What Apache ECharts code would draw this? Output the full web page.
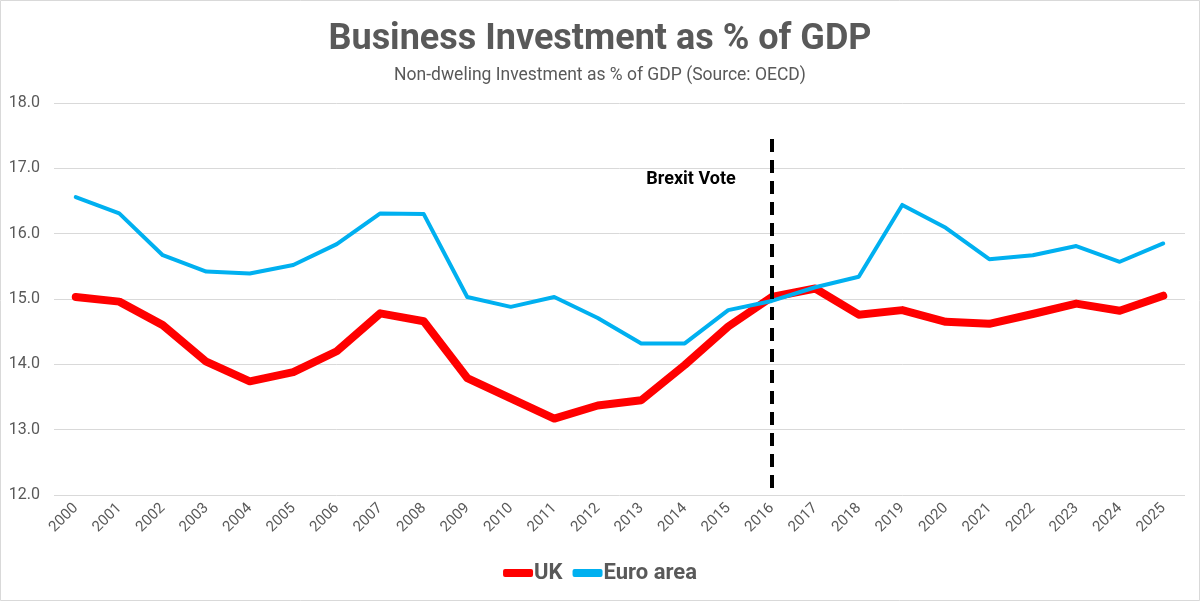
<!DOCTYPE html>
<html>
<head>
<meta charset="utf-8">
<script src="https://cdn.jsdelivr.net/npm/echarts@6/dist/echarts.min.js"></script>
<style>
  html, body { margin: 0; padding: 0; background: #fff; }
  #main { width: 1200px; height: 601px; }
</style>
</head>
<body>
<div id="main"></div>
<script>
// years on the x axis
var years = ['2000', '2001', '2002', '2003', '2004', '2005', '2006', '2007', '2008', '2009',
    '2010', '2011', '2012', '2013', '2014', '2015', '2016', '2017', '2018', '2019',
    '2020', '2021', '2022', '2023', '2024', '2025'];

// non-dwelling investment, % of GDP
var ukValues = [15.03, 14.96, 14.60, 14.04, 13.74, 13.88, 14.20, 14.78, 14.66, 13.79,
    13.48, 13.17, 13.37, 13.45, 13.99, 14.58, 15.03, 15.16, 14.76, 14.83,
    14.65, 14.62, 14.77, 14.93, 14.82, 15.05];
var euroValues = [16.56, 16.31, 15.67, 15.42, 15.39, 15.52, 15.84, 16.31, 16.30, 15.03,
    14.88, 15.03, 14.71, 14.32, 14.32, 14.83, 14.97, 15.18, 15.34, 16.44,
    16.09, 15.61, 15.67, 15.81, 15.57, 15.85];

var yTicks = [12, 13, 14, 15, 16, 17, 18];

// brexit marker
var brexitYear = '2016';
var brexitTop = 17.45;
var brexitLabel = 'Brexit Vote';

var grey = '#595959';
var narrow = "'Liberation Sans Narrow', 'Roboto', sans-serif";

var myChart = echarts.init(document.getElementById('main'));

var option = {
    backgroundColor: '#fff',
    animation: false,
    title: {
        text: 'Business Investment as % of GDP',
        subtext: 'Non-dweling Investment as % of GDP (Source: OECD)',
        left: 'center',
        top: 17,
        itemGap: 9,
        textStyle: {
            fontFamily: narrow,
            fontWeight: 'bold',
            fontSize: 36,
            color: grey
        },
        subtextStyle: {
            fontFamily: "'Roboto', sans-serif",
            fontSize: 17.5,
            color: grey
        }
    },
    legend: {
        bottom: 12,
        left: 'center',
        itemWidth: 30,
        itemHeight: 8,
        itemGap: 10,
        icon: 'roundRect',
        textStyle: {
            fontFamily: narrow,
            fontWeight: 'bold',
            fontSize: 22,
            color: grey,
            padding: [0, 0, 0, -4]
        },
        data: ['UK', 'Euro area']
    },
    grid: {
        left: 54,
        right: 15,
        top: 103,
        bottom: 106
    },
    xAxis: {
        type: 'category',
        data: years,
        boundaryGap: true,
        axisLine: { show: false },
        axisTick: { show: false },
        axisLabel: {
            rotate: 45,
            margin: 11,
            fontSize: 15,
            color: grey,
            fontFamily: "'Roboto', sans-serif"
        }
    },
    yAxis: {
        type: 'value',
        min: yTicks[0],
        max: yTicks[yTicks.length - 1],
        interval: 1,
        axisLine: { show: false },
        axisTick: { show: false },
        axisLabel: {
            margin: 14,
            fontSize: 16,
            color: grey,
            fontFamily: "'Roboto', sans-serif",
            formatter: function (v) { return v.toFixed(1); }
        },
        splitLine: { lineStyle: { color: '#d9d9d9', width: 1 } }
    },
    series: [{
        name: 'UK',
        type: 'line',
        data: ukValues,
        symbol: 'none',
        itemStyle: { color: '#ff0000' },
        lineStyle: { color: '#ff0000', width: 8, cap: 'round', join: 'round' }
    }, {
        name: 'Euro area',
        type: 'line',
        data: euroValues,
        symbol: 'none',
        itemStyle: { color: '#00b0f0' },
        lineStyle: { color: '#00b0f0', width: 4, cap: 'round', join: 'round' },
        markLine: {
            silent: true,
            symbol: ['none', 'none'],
            label: { show: false },
            lineStyle: { color: '#000', width: 4, type: [13, 8] },
            data: [[
                { coord: [brexitYear, brexitTop] },
                { coord: [brexitYear, yTicks[0]] }
            ]]
        }
    }]
};

myChart.setOption(option);

// label next to the brexit line, placed with the chart's own scales
var p = myChart.convertToPixel({ gridIndex: 0 }, [brexitYear, 16.85]);
myChart.setOption({
    graphic: [{
        type: 'rect',
        shape: { x: 0.5, y: 0.5, width: 1199, height: 600 },
        style: { fill: 'none', stroke: '#d9d9d9', lineWidth: 1 },
        silent: true
    }, {
        type: 'text',
        x: p[0] - 36,
        y: p[1] + 1,
        style: {
            text: brexitLabel,
            fill: '#000',
            fontFamily: narrow,
            fontWeight: 'bold',
            fontSize: 18,
            align: 'right',
            verticalAlign: 'middle'
        }
    }]
});
</script>
</body>
</html>
